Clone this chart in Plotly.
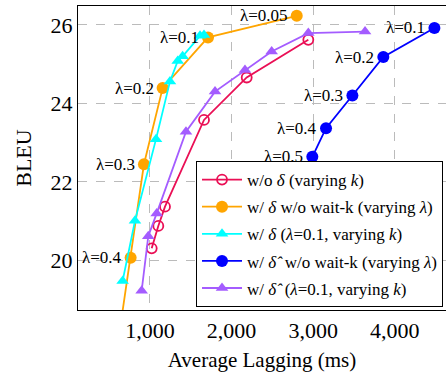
import plotly.graph_objects as go

# w/o delta (varying k)
red_x = [1021, 1102, 1184, 1662, 2185, 2940]
red_y = [20.31, 20.88, 21.37, 23.58, 24.66, 25.62]

# w/ delta w/o wait-k (varying lambda)
orange_x = [600, 763, 926, 1155, 1711, 2798]
orange_y = [17.8, 20.07, 22.45, 24.39, 25.68, 26.23]
orange_lbl = ["", "λ=0.4", "λ=0.3", "λ=0.2", "λ=0.1", "λ=0.05"]

# w/ delta (lambda=0.1, varying k)
cyan_x = [665, 816, 1074, 1245, 1340, 1400, 1613, 1662]
cyan_y = [19.48, 21.01, 23.09, 24.56, 25.08, 25.2, 25.72, 25.74]

# w/ delta-hat w/o wait-k (varying lambda)
blue_x = [2989, 3157, 3480, 3859, 4485]
blue_y = [22.64, 23.37, 24.20, 25.18, 25.92]
blue_lbl = ["λ=0.5", "λ=0.4", "λ=0.3", "λ=0.2", "λ=0.1"]

# w/ delta-hat (lambda=0.1, varying k)
purple_x = [898, 979, 1082, 1441, 1797, 2164, 2491, 2940, 3635]
purple_y = [19.23, 20.62, 21.2, 23.28, 24.30, 24.85, 25.32, 25.79, 25.83]

x_ticks = [1000, 2000, 3000, 4000]
x_tick_text = ["1,000", "2,000", "3,000", "4,000"]
y_ticks = [20, 22, 24, 26]

RED = "#ea0f55"
ORANGE = "#ffa500"
CYAN = "#00ffff"
BLUE = "#0000ff"
PURPLE = "#a45cff"

FONT = "Liberation Serif"
DHAT = "<i>\u03b4\u0302</i>"

fig = go.Figure()
fig.add_trace(go.Scatter(x=red_x, y=red_y, mode="lines+markers", legendgroup="a",
                         name="w/o <i>δ</i> (varying <i>k</i>)",
                         line=dict(color=RED, width=1.8),
                         marker=dict(symbol="circle-open", size=10, color=RED, line=dict(width=1.8))))
fig.add_trace(go.Scatter(x=orange_x, y=orange_y, mode="lines+markers", legendgroup="b",
                         name="w/ <i>δ</i> w/o wait-k (varying <i>λ</i>)",
                         line=dict(color=ORANGE, width=1.8),
                         marker=dict(symbol="circle", size=12, color=ORANGE)))
fig.add_trace(go.Scatter(x=cyan_x, y=cyan_y, mode="lines+markers", legendgroup="c",
                         name="w/ <i>δ</i> (<i>λ</i>=0.1, varying <i>k</i>)",
                         line=dict(color=CYAN, width=1.8),
                         marker=dict(symbol="triangle-up", size=11, color=CYAN)))
fig.add_trace(go.Scatter(x=blue_x, y=blue_y, mode="lines+markers", legendgroup="d",
                         name="w/ " + DHAT + "  w/o wait-k (varying <i>λ</i>)",
                         line=dict(color=BLUE, width=1.8),
                         marker=dict(symbol="circle", size=12, color=BLUE)))
fig.add_trace(go.Scatter(x=purple_x, y=purple_y, mode="lines+markers", legendgroup="e",
                         name="w/ " + DHAT + "  (<i>λ</i>=0.1, varying <i>k</i>)",
                         line=dict(color=PURPLE, width=1.8),
                         marker=dict(symbol="triangle-up", size=11, color=PURPLE)))

for xs, ys, lbls in [(orange_x, orange_y, orange_lbl), (blue_x, blue_y, blue_lbl)]:
    for x, y, t in zip(xs, ys, lbls):
        if not t:
            continue
        fig.add_annotation(x=x, y=y, text=t, showarrow=False, xanchor="right",
                           yanchor="middle", xshift=-7,
                           font=dict(family=FONT, size=17, color="black"))

fig.update_layout(
    width=446, height=385,
    margin=dict(l=78, r=0, t=6, b=75),
    plot_bgcolor="white", paper_bgcolor="white",
    font=dict(family=FONT, color="black"),
    showlegend=True,
    legend=dict(x=0.3207, y=0.49, xanchor="left", yanchor="top",
                bgcolor="white", bordercolor="black", borderwidth=1,
                font=dict(family=FONT, size=17, color="black"),
                tracegroupgap=2, itemwidth=40),
)
fig.update_xaxes(range=[118, 4627], tickvals=x_ticks, ticktext=x_tick_text,
                 showgrid=True, gridcolor="#bbbbbb", griddash="dash", gridwidth=1,
                 showline=True, linecolor="black", linewidth=1.2, mirror=True,
                 ticks="", tickfont=dict(family=FONT, size=22),
                 title=dict(text="Average Lagging (ms)", font=dict(family=FONT, size=21), standoff=10),
                 zeroline=False)
fig.update_yaxes(range=[18.74, 26.48], tickvals=y_ticks,
                 showgrid=True, gridcolor="#bbbbbb", griddash="dash", gridwidth=1,
                 showline=True, linecolor="black", linewidth=1.2, mirror=False,
                 ticks="", tickfont=dict(family=FONT, size=22),
                 title=dict(text="BLEU", font=dict(family=FONT, size=22), standoff=12),
                 zeroline=False)

fig.write_html("out.html", config={"displayModeBar": False},
               post_script="document.body.style.margin='0';")
